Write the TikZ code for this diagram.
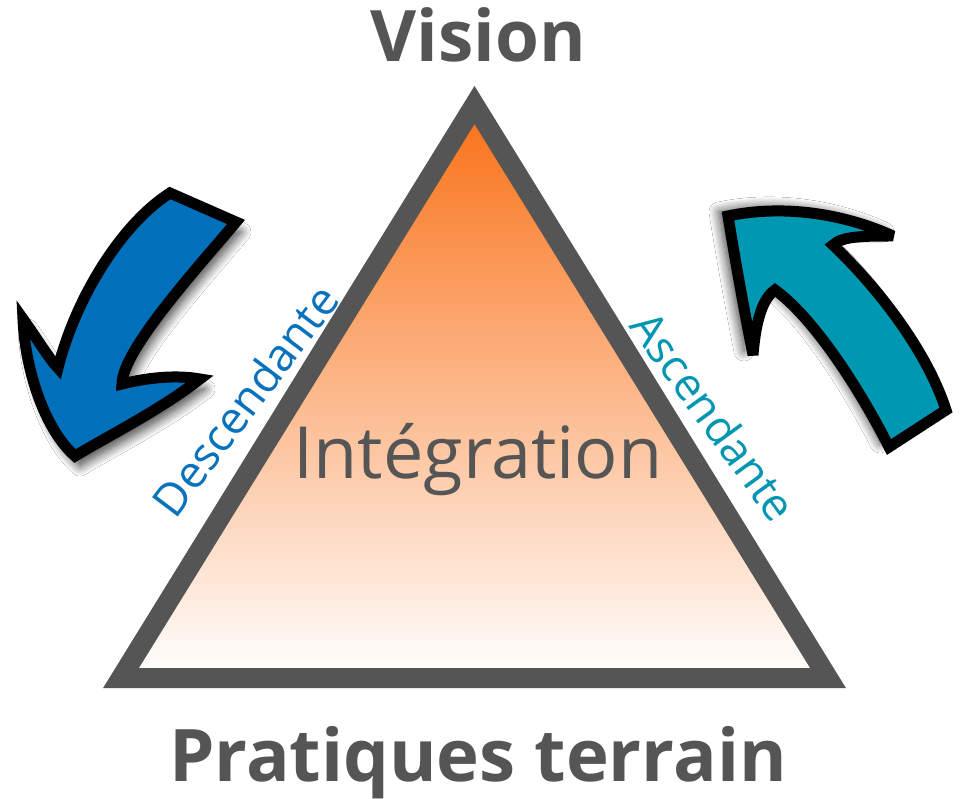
\documentclass[tikz,border=0pt]{standalone}
\usepackage{fontspec}
\setmainfont{Open Sans}
\usetikzlibrary{shadows.blur}
\definecolor{edgegray}{RGB}{85,85,85}
\definecolor{textgray}{RGB}{85,85,85}
\definecolor{apexorange}{RGB}{249,112,22}
\definecolor{downblue}{RGB}{0,112,186}
\definecolor{downtext}{RGB}{8,114,188}
\definecolor{upteal}{RGB}{0,151,178}
\definecolor{uptext}{RGB}{0,150,178}
\tikzset{
  pyramid/.style={draw=edgegray, line width=20pt, line join=miter,
    shading=axis, top color=apexorange, bottom color=white},
  bigarrow/.style={draw=black, line width=11pt, line join=miter, miter limit=4},
  title/.style={font=\fontsize{71}{84}\selectfont\bfseries, text=textgray, anchor=base},
  sidelabel/.style={font=\fontsize{45}{54}\selectfont, inner sep=0pt},
}
\begin{document}
\begin{tikzpicture}[x=1pt,y=-1pt]
  \useasboundingbox[fill=white] (0,0) rectangle (961,799);

  % triangle with orange-to-white fill
  \coordinate (apex) at (474.5,105);
  \coordinate (bl) at (121,678);
  \coordinate (br) at (828,678);
  \path[pyramid] (apex) -- (bl) -- (br) -- cycle;

  % descending arrow on the left
  \path[bigarrow, fill=downblue,
        blur shadow={shadow xshift=5pt, shadow yshift=-10pt, shadow blur radius=10pt,
                     shadow blur steps=12, shadow opacity=75}]
    (170,193) -- (236,222)
    .. controls (200,265) and (122,350) .. (122,384)
    .. controls (150,377) and (178,375) .. (200,379)
    .. controls (160,410) and (110,435) .. (75,456)
    .. controls (45,430) and (25,370) .. (23,319)
    .. controls (38,340) and (50,360) .. (58,368)
    .. controls (75,300) and (120,225) .. cycle;

  % ascending arrow on the right
  \path[bigarrow, fill=upteal,
        blur shadow={shadow xshift=-9pt, shadow yshift=4pt, shadow blur radius=10pt,
                     shadow blur steps=12, shadow opacity=75}]
    (728,216)
    .. controls (780,205) and (840,212) .. (893,236)
    .. controls (865,236) and (842,236) .. (833,245)
    .. controls (870,280) and (925,345) .. (946,410)
    -- (889,447)
    .. controls (855,380) and (810,315) .. (775,290)
    .. controls (760,300) and (755,330) .. (753,355)
    .. controls (746,320) and (735,260) .. cycle;

  % texts
  \node[title] (vision) at (478,62) {Vision};
  \node[title, font=\fontsize{72.5}{86}\selectfont\bfseries] (terrain) at (478,781) {Pratiques terrain};
  \node[font=\fontsize{72}{86}\selectfont, text=textgray, anchor=base] (integ) at (478,478) {Intégration};
  \node[sidelabel, text=downtext, rotate=53] (desc) at (245,400) {Descendante};
  \node[sidelabel, text=uptext, rotate=-54] (asc) at (714,416) {Ascendante};
\end{tikzpicture}
\end{document}
